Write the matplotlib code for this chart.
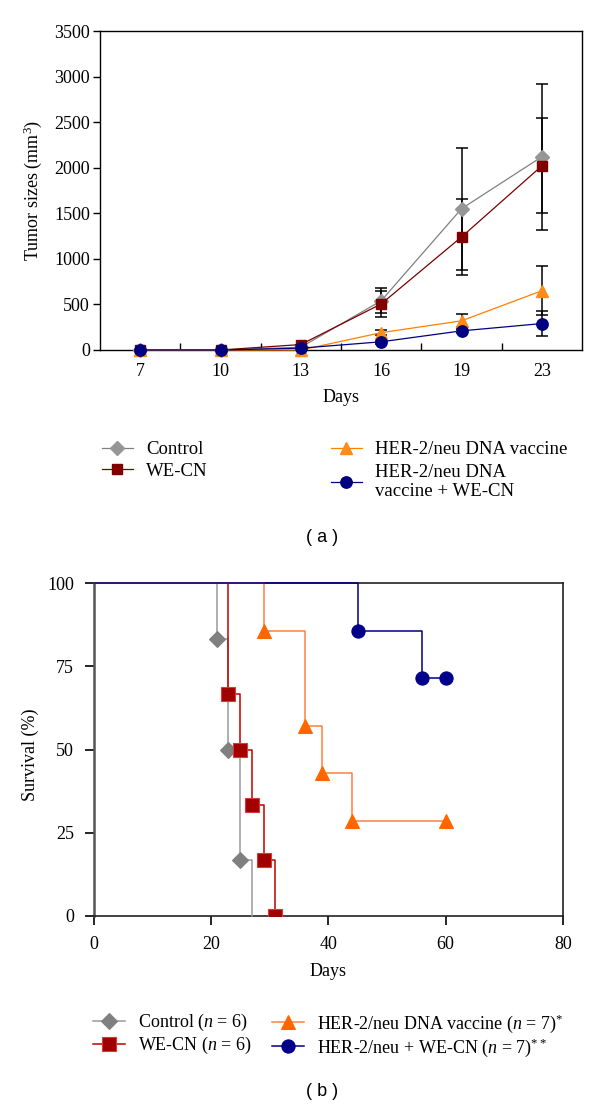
import numpy as np
import matplotlib
matplotlib.use('Agg')
import matplotlib.pyplot as plt

plt.rcParams['font.family'] = ['Liberation Serif', 'DejaVu Serif']
plt.rcParams['mathtext.fontset'] = 'custom'
plt.rcParams['mathtext.rm'] = 'Liberation Serif'
plt.rcParams['mathtext.it'] = 'Liberation Serif:italic'
plt.rcParams['mathtext.bf'] = 'Liberation Serif:bold'

# ---- panel (a): tumour growth ----
days_a = ['7', '10', '13', '16', '19', '23']
ctrl_size = [0, 0, 30, 540, 1550, 2120]
ctrl_err = [0, 0, 0, 135, 670, 800]
wecn_size = [0, 0, 60, 505, 1240, 2020]
wecn_err = [0, 0, 0, 140, 420, 520]
vac_size = [0, 0, 0, 190, 320, 650]
vac_err = [0, 0, 0, 30, 70, 270]
combo_size = [0, 0, 20, 90, 210, 290]
combo_err = [0, 0, 0, 20, 25, 140]
labels_a = ['Control', 'WE-CN', 'HER-2/neu DNA vaccine', 'HER-2/neu DNA\nvaccine + WE-CN']

# ---- panel (b): survival ----
ctrl_days = [0, 21, 23, 25, 27]
ctrl_surv = [100, 83.3, 50, 16.7, 0]
wecn_days = [0, 23, 25, 27, 29, 31]
wecn_surv = [100, 66.7, 50, 33.3, 16.7, 0]
vac_days = [0, 29, 36, 39, 44, 60]
vac_surv = [100, 85.7, 57.1, 42.9, 28.6, 28.6]
combo_days = [0, 45, 56, 60]
combo_surv = [100, 85.7, 71.4, 71.4]
labels_b = ['Control ($n$ = 6)', 'WE-CN ($n$ = 6)',
            'HER-2/neu DNA vaccine ($n$ = 7)$^{*}$',
            'HER-2/neu + WE-CN ($n$ = 7)$^{**}$']

W, H = 600, 1108


def fx(x):
    return x / W


def fy(y):
    return 1 - y / H


fig = plt.figure(figsize=(W / 100, H / 100), dpi=100)
fig.patch.set_facecolor('white')

# ================= panel (a) =================
ax1 = fig.add_axes([fx(100), fy(350), (582 - 100) / W, (350 - 31) / H])
x = np.arange(len(days_a))
series_a = [
    (ctrl_size, ctrl_err, '#808080', '#969696', 'D', 7.5),
    (wecn_size, wecn_err, '#7a0000', '#800000', 's', 7.8),
    (vac_size, vac_err, '#ff8000', '#ff8c1a', '^', 9),
    (combo_size, combo_err, '#000080', '#000080', 'o', 8.2),
]
handles_a = []
for vals, err, lc, mc, mk, ms in series_a:
    ax1.errorbar(x, vals, yerr=err, fmt='none', ecolor='black', elinewidth=1.1,
                 capsize=4, capthick=1.1, zorder=2, clip_on=False)
for vals, err, lc, mc, mk, ms in series_a:
    h, = ax1.plot(x, vals, color=lc, linewidth=0.9, marker=mk, markersize=ms,
                  markerfacecolor=mc, markeredgecolor=mc, zorder=3, clip_on=False)
    handles_a.append(h)

ax1.set_xlim(-0.5, len(days_a) - 0.5)
ax1.set_ylim(0, 3500)
ax1.set_yticks(np.arange(0, 3501, 500))
ax1.set_xticks(x)
ax1.set_xticklabels(days_a)
ax1.set_xticks(np.arange(0.5, len(days_a) - 1, 1), minor=True)
ax1.tick_params(axis='y', direction='out', length=4.7, width=1, pad=2.5, labelsize=13)
ax1.tick_params(axis='x', which='major', length=0, pad=9, labelsize=13)
ax1.tick_params(axis='x', which='minor', direction='in', length=5, width=1)
for s in ax1.spines.values():
    s.set_linewidth(1.0)
    s.set_color('black')
ax1.set_ylabel('Tumor sizes (mm$^3$)', fontsize=13)
ax1.yaxis.set_label_coords((33 - 100) / 482, 0.5)
ax1.yaxis.label.set_va('center')
ax1.set_xlabel('Days', fontsize=13)
ax1.xaxis.set_label_coords(0.5, (350 - 398) / 319)
ax1.xaxis.label.set_va('center')

leg_kw = dict(loc='upper left', frameon=False, borderpad=0, borderaxespad=0,
              handlelength=1.65, handletextpad=0.7, fontsize=13.5)
fig.legend(handles_a[:2], labels_a[:2], bbox_to_anchor=(fx(102), fy(441)),
           labelspacing=0.25, **leg_kw)
leg = fig.legend(handles_a[2:], labels_a[2:], bbox_to_anchor=(fx(331), fy(441)),
                 labelspacing=0.3, **leg_kw)
for t in leg.get_texts():
    t.set_linespacing(1.15)

fig.text(fx(322), fy(537), '( a )', family='Liberation Sans', fontsize=13,
         ha='center', va='center')

# ================= panel (b) =================
ax2 = fig.add_axes([fx(93.5), fy(916), (563 - 93.5) / W, (916 - 583) / H])
series_b = [
    (ctrl_days, ctrl_surv, '#9a9a9a', '#808080', '#808080', 'D', 8.5, [1, 2, 3]),
    (wecn_days, wecn_surv, '#c00000', '#a00000', '#d83a3a', 's', 9.5, None),
    (vac_days, vac_surv, '#ff8040', '#ff6600', '#ff6600', '^', 10, None),
    (combo_days, combo_surv, '#000080', '#00008b', '#00008b', 'o', 9.5, None),
]
handles_b = []
for d, s, lc, mc, ec, mk, ms, me in series_b:
    if me is None:
        me = list(range(1, len(d)))
    ax2.plot(d, s, color=lc, linewidth=1.1, drawstyle='steps-post', zorder=3,
             clip_on=False)
    ax2.plot(d, s, linestyle='none', marker=mk, markersize=ms, markevery=me,
             markerfacecolor=mc, markeredgecolor=ec, markeredgewidth=0.8, zorder=4)
    h, = ax2.plot([], [], color=lc, linewidth=1.1, marker=mk, markersize=ms,
                  markerfacecolor=mc, markeredgecolor=ec, markeredgewidth=0.8)
    handles_b.append(h)

ax2.set_xlim(0, 80)
ax2.set_ylim(0, 100)
ax2.set_xticks(np.arange(0, 81, 20))
ax2.set_yticks(np.arange(0, 101, 25))
ax2.tick_params(axis='both', direction='out', length=6.5, width=1.2, labelsize=13)
ax2.tick_params(axis='y', pad=7.5)
ax2.tick_params(axis='x', pad=8)
for name, s in ax2.spines.items():
    s.set_linewidth(1.2)
    s.set_color('#222222')
ax2.spines['left'].set_linewidth(1.8)
ax2.spines['left'].set_color('#555555')
ax2.set_ylabel('Survival (%)', fontsize=13)
ax2.yaxis.set_label_coords((30 - 93.5) / 469.5, (916 - 755) / 333)
ax2.yaxis.label.set_va('center')
ax2.set_xlabel('Days', fontsize=13)
ax2.xaxis.set_label_coords(0.5, (916 - 971) / 333)
ax2.xaxis.label.set_va('center')

leg_kw_b = dict(loc='upper left', frameon=False, borderpad=0, borderaxespad=0,
                handlelength=1.78, handletextpad=0.72, fontsize=13, labelspacing=0.1)
fig.legend(handles_b[:2], labels_b[:2], bbox_to_anchor=(fx(93), fy(1012)), **leg_kw_b)
fig.legend(handles_b[2:], labels_b[2:], bbox_to_anchor=(fx(272), fy(1012)), **leg_kw_b)

fig.text(fx(322), fy(1092), '( b )', family='Liberation Sans', fontsize=13,
         ha='center', va='center')

fig.savefig('out.png', dpi=100)
